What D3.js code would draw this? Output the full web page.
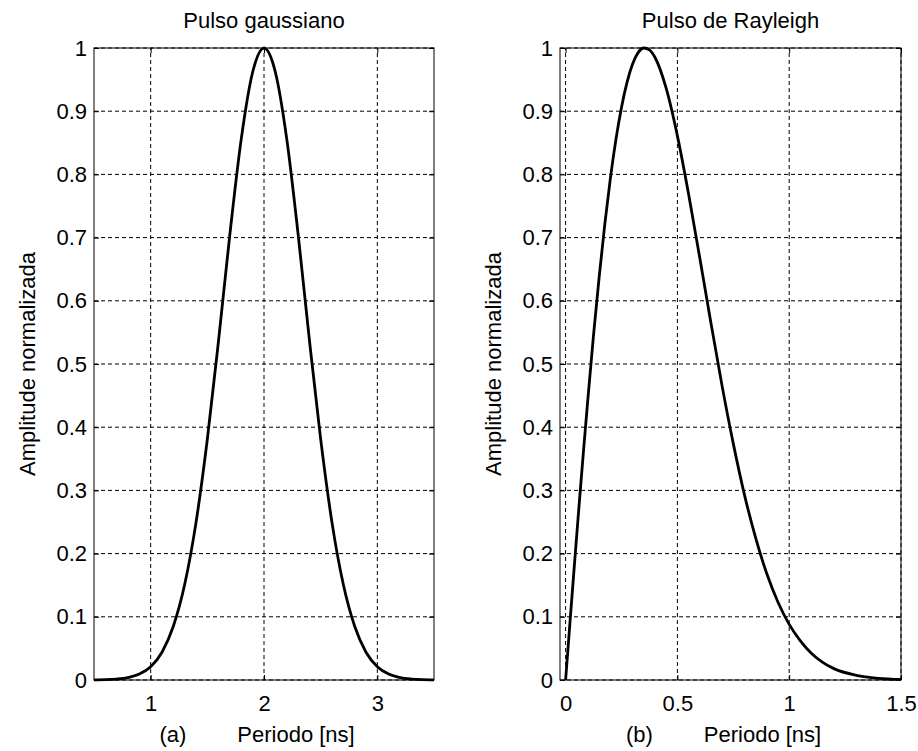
<!DOCTYPE html>
<html>
<head>
<meta charset="utf-8">
<script src="https://cdn.jsdelivr.net/npm/d3@7"></script>
<style>
  body { margin: 0; background: #fff; }
  svg { display: block; }
  text { font-family: Arial, "Liberation Sans", sans-serif; font-size: 22px; fill: #000; }
</style>
</head>
<body>
<svg width="918" height="751"></svg>
<script>
// Data

// Pulso gaussiano: time (ns) and normalized amplitude
var gaussT = [0.5, 0.6, 0.7, 0.8, 0.9, 1.0, 1.1, 1.2, 1.3, 1.4, 1.5, 1.6, 1.7, 1.8, 1.9, 2.0,
              2.1, 2.2, 2.3, 2.4, 2.5, 2.6, 2.7, 2.8, 2.9, 3.0, 3.1, 3.2, 3.3, 3.4, 3.5];
var gaussA = [0.0002, 0.0005, 0.0015, 0.0039, 0.0094, 0.021, 0.044, 0.085, 0.151, 0.249, 0.381, 0.539, 0.707, 0.857, 0.962, 1.0,
              0.962, 0.857, 0.707, 0.539, 0.381, 0.249, 0.151, 0.085, 0.044, 0.021, 0.0094, 0.0039, 0.0015, 0.0005, 0.0002];

// Pulso de Rayleigh
var rayT = [0, 0.01, 0.02, 0.04, 0.06, 0.08, 0.1, 0.125, 0.15, 0.175, 0.2, 0.225, 0.25, 0.275, 0.3, 0.325, 0.35, 0.375, 0.4,
            0.45, 0.5, 0.55, 0.6, 0.65, 0.7, 0.75, 0.8, 0.85, 0.9, 0.95, 1.0, 1.05, 1.1, 1.15, 1.2, 1.3, 1.4, 1.5];
var rayA = [0, 0.046, 0.093, 0.185, 0.275, 0.362, 0.446, 0.546, 0.637, 0.72, 0.793, 0.855, 0.906, 0.946, 0.975, 0.993, 1.0, 0.997, 0.985,
            0.936, 0.861, 0.769, 0.668, 0.565, 0.465, 0.374, 0.293, 0.225, 0.168, 0.123, 0.088, 0.062, 0.042, 0.028, 0.018, 0.0074, 0.0027, 0.0009];

// Tick labels
var yTicks = [0, 0.1, 0.2, 0.3, 0.4, 0.5, 0.6, 0.7, 0.8, 0.9, 1];
var gaussTicks = [1, 2, 3];
var rayTicks = [0, 0.5, 1, 1.5];

var svg = d3.select("svg");

// one panel = one MATLAB style axes box
function drawPanel(opt) {
  var x = d3.scaleLinear().domain(opt.xDomain).range([opt.left, opt.right]),
      y = d3.scaleLinear().domain([0, 1]).range([680, 48]);

  var g = svg.append("g");

  // dashed grid
  g.selectAll(".gx").data(opt.xTicks).enter().append("line")
      .attr("x1", function(d) { return x(d); })
      .attr("x2", function(d) { return x(d); })
      .attr("y1", y(0)).attr("y2", y(1))
      .attr("stroke", "#000").attr("stroke-dasharray", "4,3");

  g.selectAll(".gy").data(yTicks).enter().append("line")
      .attr("y1", function(d) { return y(d); })
      .attr("y2", function(d) { return y(d); })
      .attr("x1", opt.left).attr("x2", opt.right)
      .attr("stroke", "#000").attr("stroke-dasharray", "4,3");

  // axes with inward ticks on all four sides
  var fmt = function(d) { return String(d); };
  g.append("g").attr("transform", "translate(0," + y(0) + ")")
      .call(d3.axisBottom(x).tickValues(opt.xTicks).tickSizeInner(-5).tickSizeOuter(0).tickPadding(15).tickFormat(fmt));
  g.append("g").attr("transform", "translate(0," + y(1) + ")")
      .call(d3.axisTop(x).tickValues(opt.xTicks).tickSizeInner(-5).tickSizeOuter(0).tickFormat(""));
  g.append("g").attr("transform", "translate(" + opt.left + ",0)")
      .call(d3.axisLeft(y).tickValues(yTicks).tickSizeInner(-5).tickSizeOuter(0).tickPadding(7).tickFormat(fmt));
  g.append("g").attr("transform", "translate(" + opt.right + ",0)")
      .call(d3.axisRight(y).tickValues(yTicks).tickSizeInner(-5).tickSizeOuter(0).tickFormat(""));

  g.selectAll(".domain").remove();
  g.selectAll(".tick line").attr("stroke", "#000");
  g.selectAll(".tick text").attr("font-size", 22).attr("font-family", "Arial, 'Liberation Sans', sans-serif").attr("fill", "#000");

  // box
  g.append("rect")
      .attr("x", opt.left).attr("y", y(1))
      .attr("width", opt.right - opt.left).attr("height", y(0) - y(1))
      .attr("fill", "none").attr("stroke", "#000");

  // the pulse
  var line = d3.line()
      .x(function(d) { return x(d[0]); })
      .y(function(d) { return y(d[1]); })
      .curve(d3.curveMonotoneX);

  g.append("path")
      .datum(d3.zip(opt.t, opt.a))
      .attr("d", line)
      .attr("fill", "none")
      .attr("stroke", "#000")
      .attr("stroke-width", 2.8);

  var cx = (opt.left + opt.right) / 2;

  g.append("text")
      .attr("x", cx).attr("y", 28)
      .attr("text-anchor", "middle")
      .text(opt.title);

  g.append("text")
      .attr("transform", "translate(" + (opt.left - 59) + "," + ((y(0) + y(1)) / 2) + ") rotate(-90)")
      .attr("text-anchor", "middle")
      .text("Amplitude normalizada");

  // "(a)      Periodo [ns]"
  g.append("text")
      .attr("x", cx - 91).attr("y", 742)
      .attr("text-anchor", "middle")
      .text(opt.letter);
  g.append("text")
      .attr("x", cx + 32).attr("y", 742)
      .attr("text-anchor", "middle")
      .text("Periodo [ns]");
}

drawPanel({
  left: 94, right: 434, xDomain: [0.5, 3.5], xTicks: gaussTicks,
  t: gaussT, a: gaussA, title: "Pulso gaussiano", letter: "(a)"
});

drawPanel({
  left: 560, right: 901, xDomain: [-0.025, 1.5], xTicks: rayTicks,
  t: rayT, a: rayA, title: "Pulso de Rayleigh", letter: "(b)"
});
</script>
</body>
</html>
